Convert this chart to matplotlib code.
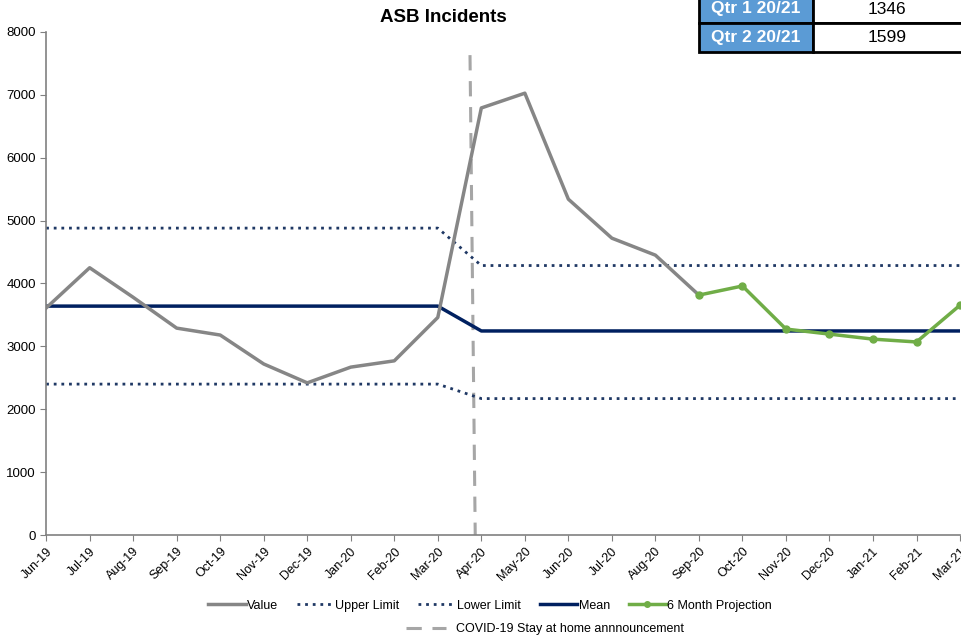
import matplotlib.pyplot as plt
from matplotlib.lines import Line2D
from matplotlib.patches import Rectangle

plt.rcParams["font.family"] = ["Liberation Sans", "DejaVu Sans"]

months = ["Jun-19", "Jul-19", "Aug-19", "Sep-19", "Oct-19", "Nov-19", "Dec-19",
          "Jan-20", "Feb-20", "Mar-20", "Apr-20", "May-20", "Jun-20", "Jul-20",
          "Aug-20", "Sep-20", "Oct-20", "Nov-20", "Dec-20", "Jan-21", "Feb-21",
          "Mar-21"]

value = [3610, 4250, 3780, 3290, 3180, 2720, 2420, 2670, 2770, 3460,
         6790, 7025, 5340, 4720, 4450, 3815]
upper_limit = [4880] * 10 + [4285] * 12
lower_limit = [2400] * 10 + [2170] * 12
mean = [3640] * 10 + [3245] * 12
projection = [3815, 3960, 3275, 3195, 3115, 3070, 3655]
projection_start = 15

covid_x = [9.74, 9.86]
covid_y = [7630, 0]

table_labels = ["Qtr 1 20/21", "Qtr 2 20/21"]
table_values = ["1346", "1599"]

DOTS = (0, (1, 1.75))

fig = plt.figure(figsize=(9.61, 6.37), dpi=100)
ax = fig.add_axes([0.048, 0.160, 0.951, 0.790])

x_all = list(range(len(months)))

ax.plot(covid_x, covid_y, color="#A6A6A6", linewidth=2.2, dashes=(5, 3.5))
ax.plot(x_all, upper_limit, color="#1F3864", linewidth=2, linestyle=DOTS)
ax.plot(x_all, lower_limit, color="#1F3864", linewidth=2, linestyle=DOTS)
ax.plot(x_all, mean, color="#002060", linewidth=2.5)
ax.plot(x_all[:len(value)], value, color="#868686", linewidth=2.5)
ax.plot(x_all[projection_start:], projection, color="#70AD47", linewidth=2.5,
        marker="o", markersize=5, clip_on=False)

ax.set_xlim(0, len(months) - 1)
ax.set_ylim(0, 8000)
ax.set_yticks(range(0, 8001, 1000))
ax.set_xticks(x_all)
ax.set_xticklabels(months, rotation=45, ha="right", rotation_mode="anchor", fontsize=9)
ax.tick_params(axis="y", labelsize=9.5, length=4, color="#808080")
ax.tick_params(axis="x", length=4, color="#808080")
for side in ("top", "right"):
    ax.spines[side].set_visible(False)
for side in ("left", "bottom"):
    ax.spines[side].set_color("#808080")
    ax.spines[side].set_linewidth(1.2)

fig.text(0.461, 0.973, "ASB Incidents", ha="center", va="center",
         fontsize=13.5, fontweight="bold")

# legend, two rows
handles = [
    Line2D([], [], color="#868686", linewidth=2.5),
    Line2D([], [], color="#1F3864", linewidth=2, linestyle=DOTS),
    Line2D([], [], color="#1F3864", linewidth=2, linestyle=DOTS),
    Line2D([], [], color="#002060", linewidth=2.5),
    Line2D([], [], color="#70AD47", linewidth=2.5, marker="o", markersize=4),
]
names = ["Value", "Upper Limit", "Lower Limit", "Mean", "6 Month Projection"]
fig.legend(handles, names, loc="center", bbox_to_anchor=(0.51, 0.049), ncol=5,
           frameon=False, fontsize=9, handlelength=3, handletextpad=0.1,
           columnspacing=1.5)
fig.legend([Line2D([], [], color="#A6A6A6", linewidth=2.2, dashes=(5, 3.5))],
           ["COVID-19 Stay at home annnouncement"], loc="center",
           bbox_to_anchor=(0.567, 0.012), frameon=False, fontsize=9,
           handlelength=3.2, handletextpad=0.8)

# summary table in the top right corner
W, H = 961.0, 637.0
col_x = [699, 813, 961]
row_y = [-5, 23, 52]
for i in range(2):
    y0, y1 = row_y[i], row_y[i + 1]
    fig.add_artist(Rectangle((col_x[0] / W, 1 - y1 / H), (col_x[1] - col_x[0]) / W,
                             (y1 - y0) / H, facecolor="#5B9BD5", edgecolor="black",
                             linewidth=2, transform=fig.transFigure, clip_on=False))
    fig.add_artist(Rectangle((col_x[1] / W, 1 - y1 / H), (col_x[2] - col_x[1] + 5) / W,
                             (y1 - y0) / H, facecolor="white", edgecolor="black",
                             linewidth=2, transform=fig.transFigure, clip_on=False))
    yc = 1 - (y0 + y1) / 2 / H
    fig.text((col_x[0] + col_x[1]) / 2 / W, yc, table_labels[i], ha="center",
             va="center", color="white", fontweight="bold", fontsize=12.5)
    fig.text((col_x[1] + col_x[2]) / 2 / W, yc, table_values[i], ha="center",
             va="center", color="black", fontsize=12.5)

fig.savefig("out.png", dpi=100)
